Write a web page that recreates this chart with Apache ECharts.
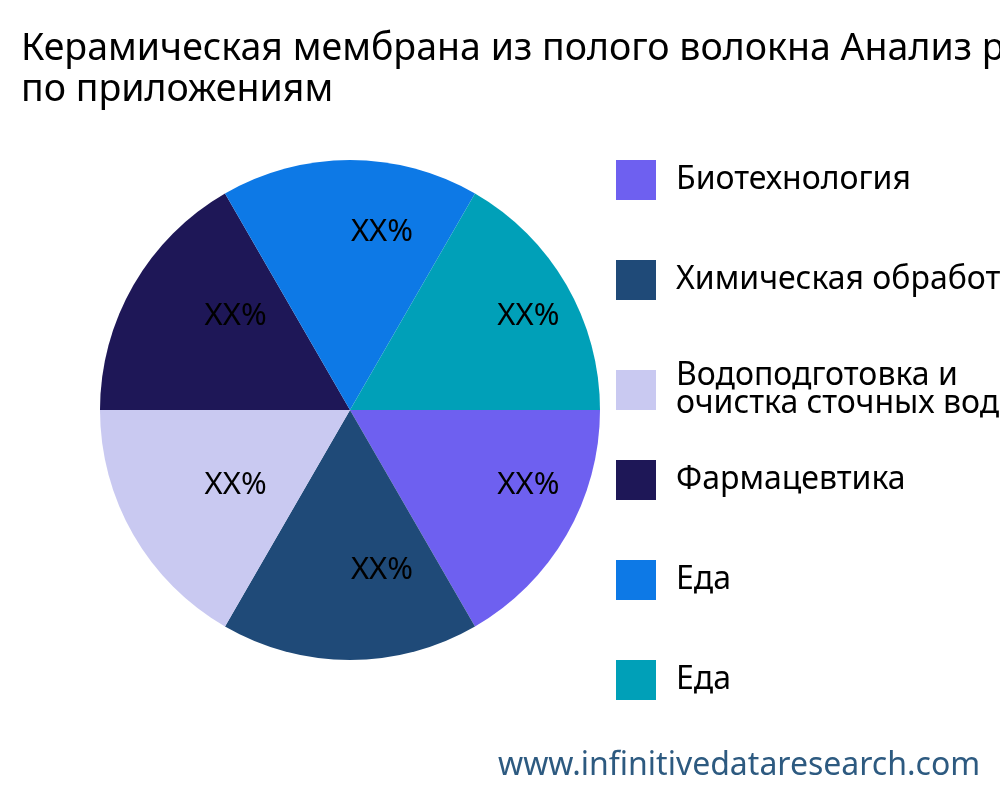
<!DOCTYPE html>
<html><head><meta charset="utf-8">
<script src="https://cdn.jsdelivr.net/npm/echarts@6/dist/echarts.min.js"></script>
<style>html,body{margin:0;padding:0}#c{width:1000px;height:800px}</style>
</head><body><div id="c"></div>
<script>
const categories = ["Биотехнология","Химическая обработка","Водоподготовка и\nочистка сточных вод","Фармацевтика","Еда","Еда "];
const values = [1,1,1,1,1,1];
const labels = ["XX%","XX%","XX%","XX%","XX%","XX%"];
const colors = ["#6e60f0","#1f4a78","#c9c9f1","#1e1757","#0d79e6","#00a0b8"];
const chart = echarts.init(document.getElementById('c'));
const font = "'Noto Sans', 'Open Sans', sans-serif";
const legends = categories.map((c,i)=>({orient:'vertical',left:611,top:155+100*i,itemWidth:40,itemHeight:40,itemGap:20,icon:'rect',
    textStyle:{fontSize:32,color:'#000',lineHeight:28,fontFamily:font,padding:[0,0,0,15]},data:[c]}));
chart.setOption({
  animation:false,
  textStyle:{fontFamily:font},
  title:{text:"Керамическая мембрана из полого волокна Анализ рынка\nпо приложениям",left:16,top:24,textStyle:{fontSize:37.5,fontWeight:'normal',color:'#000',lineHeight:41,fontFamily:font}},
  graphic:[{type:'text',left:498,top:750,style:{text:'www.infinitivedataresearch.com',fontSize:32,fill:'#2d5a80',fontFamily:font}}],
  legend:legends,
  series:[
    {type:'pie',center:[350,410],radius:[0,250],startAngle:0,clockwise:true,label:{show:false},
     data:categories.map((c,i)=>({name:c,value:values[i],itemStyle:{color:colors[i]}}))},
    {type:'pie',center:[350,410],radius:[0,332],startAngle:0,clockwise:true,silent:true,legendHoverLink:false,
     itemStyle:{color:'rgba(0,0,0,0)'},
     label:{show:true,position:'inside',offset:[32,-9],formatter:p=>labels[p.dataIndex],fontSize:31,color:'#000',fontFamily:font},
     data:categories.map((c,i)=>({name:c+'_l',value:values[i]}))}
  ]
});
</script></body></html>
